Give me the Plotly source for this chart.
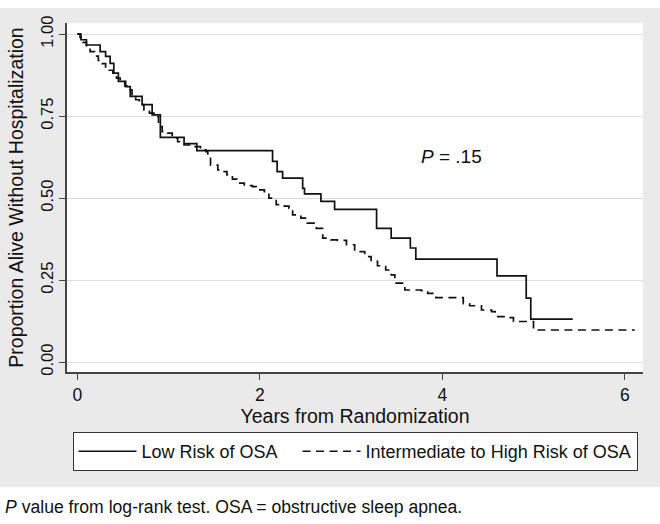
import plotly.graph_objects as go

# Low risk of OSA (Kaplan-Meier step values)
low_t = [0.00, 0.04, 0.10, 0.25, 0.31, 0.36, 0.40, 0.45, 0.53, 0.58, 0.71, 0.82, 0.91,
         1.17, 1.31, 2.14, 2.19, 2.25, 2.47, 2.49, 2.67, 2.82, 3.28, 3.44, 3.65, 3.71,
         4.60, 4.92, 4.97, 5.43]
low_s = [1.000, 0.983, 0.967, 0.947, 0.932, 0.911, 0.881, 0.856, 0.840, 0.810, 0.785, 0.754, 0.685,
         0.666, 0.645, 0.612, 0.581, 0.561, 0.530, 0.513, 0.490, 0.466, 0.408, 0.378, 0.348, 0.314,
         0.263, 0.195, 0.131, 0.131]

# Intermediate to high risk of OSA
hi_t = [0.00, 0.03, 0.06, 0.10, 0.14, 0.19, 0.23, 0.27, 0.31, 0.35, 0.39, 0.43, 0.47, 0.52,
        0.56, 0.60, 0.64, 0.68, 0.73, 0.79, 0.84, 0.89, 0.93, 0.99, 1.04, 1.10, 1.17, 1.28,
        1.35, 1.41, 1.43, 1.46, 1.54, 1.60, 1.64, 1.70, 1.75, 1.83, 1.92, 1.96, 2.05, 2.10,
        2.18, 2.27, 2.32, 2.36, 2.45, 2.52, 2.62, 2.69, 2.78, 2.85, 2.95, 3.04, 3.15, 3.22,
        3.29, 3.38, 3.44, 3.48, 3.59, 3.77, 3.84, 3.93, 4.23, 4.30, 4.43, 4.54, 4.58, 4.69,
        4.78, 5.00, 6.11]
hi_s = [1.000, 0.990, 0.975, 0.960, 0.947, 0.933, 0.920, 0.910, 0.900, 0.890, 0.878, 0.866, 0.855, 0.842,
        0.830, 0.812, 0.800, 0.785, 0.769, 0.759, 0.749, 0.718, 0.703, 0.698, 0.683, 0.672, 0.662, 0.657,
        0.647, 0.642, 0.627, 0.601, 0.586, 0.581, 0.571, 0.558, 0.546, 0.538, 0.535, 0.525, 0.520, 0.500,
        0.480, 0.476, 0.469, 0.449, 0.439, 0.424, 0.408, 0.378, 0.373, 0.371, 0.358, 0.337, 0.322, 0.307,
        0.294, 0.281, 0.266, 0.241, 0.220, 0.218, 0.210, 0.197, 0.178, 0.172, 0.159, 0.154, 0.139, 0.136,
        0.124, 0.098, 0.098]

series_names = ["Low Risk of OSA", "Intermediate to High Risk of OSA"]
x_ticks = [0, 2, 4, 6]
y_ticks = [0.0, 0.25, 0.5, 0.75, 1.0]
y_tick_labels = ["0.00", "0.25", "0.50", "0.75", "1.00"]
p_text = "<i>P</i> = .15"
footnote = "<i>P</i> value from log-rank test. OSA = obstructive sleep apnea."

FONT = "Liberation Sans, Arial, Helvetica, sans-serif"
GRAYBG = "#EAEAEA"
PAD = "\u00a0\u00a0\u00a0"  # spacing between legend entries

fig = go.Figure()
fig.add_trace(go.Scatter(x=low_t, y=low_s, mode="lines", line_shape="hv",
                         line=dict(color="#111111", width=1.7), name=series_names[0] + PAD))
fig.add_trace(go.Scatter(x=hi_t, y=hi_s, mode="lines", line_shape="hv",
                         line=dict(color="#111111", width=1.7, dash="8px,5.5px"), name=series_names[1]))

fig.add_annotation(x=4.10, y=0.626, xref="x", yref="y", text=p_text, showarrow=False,
                   font=dict(family=FONT, size=19, color="#111111"))
fig.add_annotation(x=-0.1105, y=-0.387, xref="paper", yref="paper", text=footnote,
                   showarrow=False, xanchor="left", yanchor="middle",
                   font=dict(family=FONT, size=17.6, color="#111111"))

# white strips outside the gray graph region
fig.add_shape(type="rect", xref="paper", yref="paper", x0=-0.3, x1=1.2, y0=1.043, y1=1.2,
              fillcolor="white", line_width=0, layer="below")
fig.add_shape(type="rect", xref="paper", yref="paper", x0=-0.3, x1=1.2, y0=-0.6, y1=-0.3295,
              fillcolor="white", line_width=0, layer="below")

fig.update_layout(
    template="none",
    width=660, height=524,
    margin=dict(l=67, r=17, t=23, b=152, autoexpand=False),
    paper_bgcolor=GRAYBG, plot_bgcolor="white",
    font=dict(family=FONT, color="#111111"),
    showlegend=True,
    legend=dict(orientation="h", x=0.5, xanchor="center", y=-0.172, yanchor="top",
                bgcolor="white", bordercolor="#333333", borderwidth=1,
                font=dict(family=FONT, size=18, color="#111111"), itemwidth=58,
                traceorder="normal"),
    xaxis=dict(range=[-0.113, 6.20], tickvals=x_ticks, ticks="outside", ticklen=6,
               tickcolor="#444444", showline=True, linecolor="#444444", linewidth=1.5,
               showgrid=False, zeroline=False, tickfont=dict(size=17.5), automargin=False,
               title=dict(text="Years from Randomization", font=dict(size=19.5), standoff=6)),
    yaxis=dict(range=[-0.03, 1.034], tickvals=y_ticks, ticktext=y_tick_labels, ticks="outside",
               ticklen=6, tickcolor="#444444", showline=True, linecolor="#444444", linewidth=1.5,
               showgrid=True, gridcolor="#DDDDDD", gridwidth=1, zeroline=False, tickangle=-90,
               tickfont=dict(size=16.5), automargin=False,
               title=dict(text="Proportion Alive Without Hospitalization", font=dict(size=19.5),
                          standoff=9)),
)

fig.write_html("out.html", config={"displayModeBar": False},
               post_script="document.body.style.margin='0';document.body.style.padding='0';")
